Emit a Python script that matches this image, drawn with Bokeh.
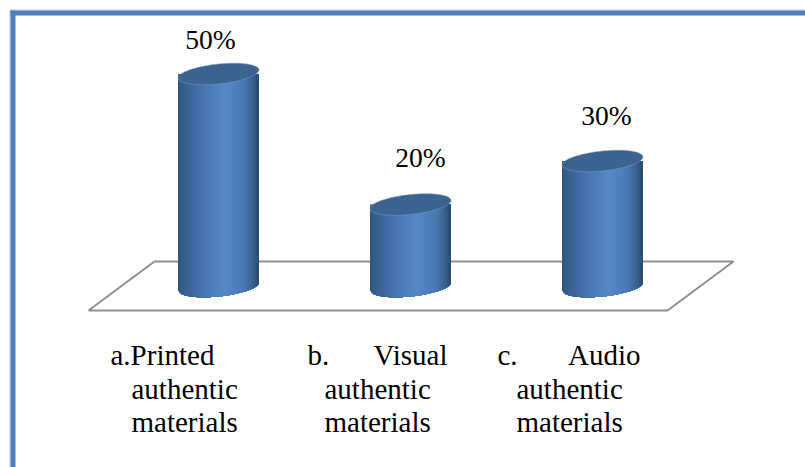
import numpy as np
from bokeh.core.properties import value
from bokeh.embed import file_html
from bokeh.models import ColumnDataSource, Range1d
from bokeh.plotting import figure
from bokeh.resources import INLINE

# Chart values
shares = [50, 20, 30]
share_labels = ["50%", "20%", "30%"]
category_lines = [
    ["a.Printed", "authentic", "materials"],
    ["b.", "authentic", "materials"],
    ["c.", "authentic", "materials"],
]
line_ends = ["", "Visual", "Audio"]

W, H = 805, 467
BASE_PX, PX_PER_PCT = 291.0, 4.35
FIRST_PX, STEP_PX = 218.0, 192.0


def ux(px):
    return (px - FIRST_PX) / STEP_PX


def uy(py):
    return (BASE_PX - py) / PX_PER_PCT


p = figure(
    width=W, height=H, output_backend="svg", toolbar_location=None,
    x_range=Range1d(ux(0), ux(W)), y_range=Range1d(uy(H), uy(0)),
    min_border=0, background_fill_color="white", border_fill_color="white",
    outline_line_color=None,
)
p.axis.visible = False
p.grid.visible = False

# Blue page frame (top and left edges only)
p.quad(left=[ux(9), ux(9)], right=[ux(W), ux(10)], top=[uy(9), uy(10)], bottom=[uy(10), uy(H)],
       fill_color="#b9cde5", line_color=None)
p.quad(left=[ux(10), ux(10)], right=[ux(W), ux(15)], top=[uy(10), uy(10)], bottom=[uy(15), uy(H)],
       fill_color="#4f81bd", line_color=None)

# Floor of the 3D plot
floor_px = [(88, 310), (667, 310), (733, 261), (154, 261), (88, 310)]
p.line([ux(a) for a, _ in floor_px], [uy(b) for _, b in floor_px],
       line_color="#8f8f8f", line_width=2)

# Cylinder shading: horizontal colour ramp across the body
STOPS = [0.0, 0.08, 0.3, 0.58, 0.82, 0.93, 1.0]
RAMP = np.array([
    (0x30, 0x54, 0x80), (0x38, 0x60, 0x90), (0x46, 0x74, 0xb0), (0x56, 0x88, 0xca),
    (0x4a, 0x78, 0xb0), (0x3a, 0x60, 0x8e), (0x2a, 0x48, 0x6c),
], dtype=float)
HALF_W, SKEW, RISE = 40.5, -0.1, 10.0
STRIPS = 54


def hex_at(f):
    c = [np.interp(f, STOPS, RAMP[:, i]) for i in range(3)]
    return "#%02x%02x%02x" % tuple(int(round(v)) for v in c)


def arc(dx, sign):
    return SKEW * dx + sign * RISE * np.sqrt(np.clip(1 - (dx / HALF_W) ** 2, 0, 1))


strip_xs, strip_ys, strip_colors = [], [], []
lid_xs, lid_ys = [], []
for i, share in enumerate(shares):
    cx = FIRST_PX + STEP_PX * i
    top_py = BASE_PX - share * PX_PER_PCT
    base_py = BASE_PX - 5
    edges = np.linspace(-HALF_W, HALF_W, STRIPS + 1)
    # Each band runs through to the right edge and the next one paints over it,
    # so neighbouring bands leave no seams
    for a in edges[:-1]:
        dxs = np.linspace(a, HALF_W, 30)
        strip_xs.append(list(ux(cx + dxs)) + [ux(cx + HALF_W), ux(cx + a)])
        strip_ys.append(list(uy(base_py + arc(dxs, 1))) + [uy(top_py), uy(top_py)])
        strip_colors.append(hex_at((a + HALF_W / STRIPS) / (2 * HALF_W) + 0.5))
    t = np.linspace(0, 2 * np.pi, 73)
    dxs = HALF_W * np.cos(t)
    lid_xs.append(list(ux(cx + dxs)))
    lid_ys.append(list(uy(top_py + SKEW * dxs + RISE * np.sin(t))))

p.patches(strip_xs, strip_ys, fill_color=strip_colors, line_color=None)
p.patches(lid_xs, lid_ys, fill_color="#3d6391", line_color="#7f9cc0", line_width=0.5)

# Value labels
label_dx = [-8, 10, 4]
label_rise = [35, 47, 46]
p.text(
    x=[ux(FIRST_PX + STEP_PX * i + label_dx[i]) for i in range(3)],
    y=[shares[i] + label_rise[i] / PX_PER_PCT for i in range(3)],
    text=share_labels, text_font=value("Liberation Serif"), text_font_size="27.5px",
    text_color="black", text_align="center", text_baseline="alphabetic",
)

# Category labels: three lines each, the first line spread to the column width
BASELINES = [354, 388, 421]
first_left = [110, 307, 497]
body_left = [131, 324, 516]
end_right = [None, 447, 640]
src = {"x": [], "y": [], "t": []}
for i, lines in enumerate(category_lines):
    for j, line in enumerate(lines):
        src["x"].append(ux(first_left[i] if j == 0 else body_left[i]))
        src["y"].append(uy(BASELINES[j]))
        src["t"].append(line)
p.text("x", "y", text="t", source=ColumnDataSource(src), text_font=value("Liberation Serif"),
       text_font_size="29px", text_color="black", text_align="left", text_baseline="alphabetic")
p.text(
    x=[ux(end_right[i]) for i in (1, 2)], y=[uy(BASELINES[0])] * 2,
    text=[line_ends[i] for i in (1, 2)], text_font=value("Liberation Serif"),
    text_font_size="29px", text_color="black", text_align="right", text_baseline="alphabetic",
)

open("out.html", "w").write(file_html(p, INLINE))
